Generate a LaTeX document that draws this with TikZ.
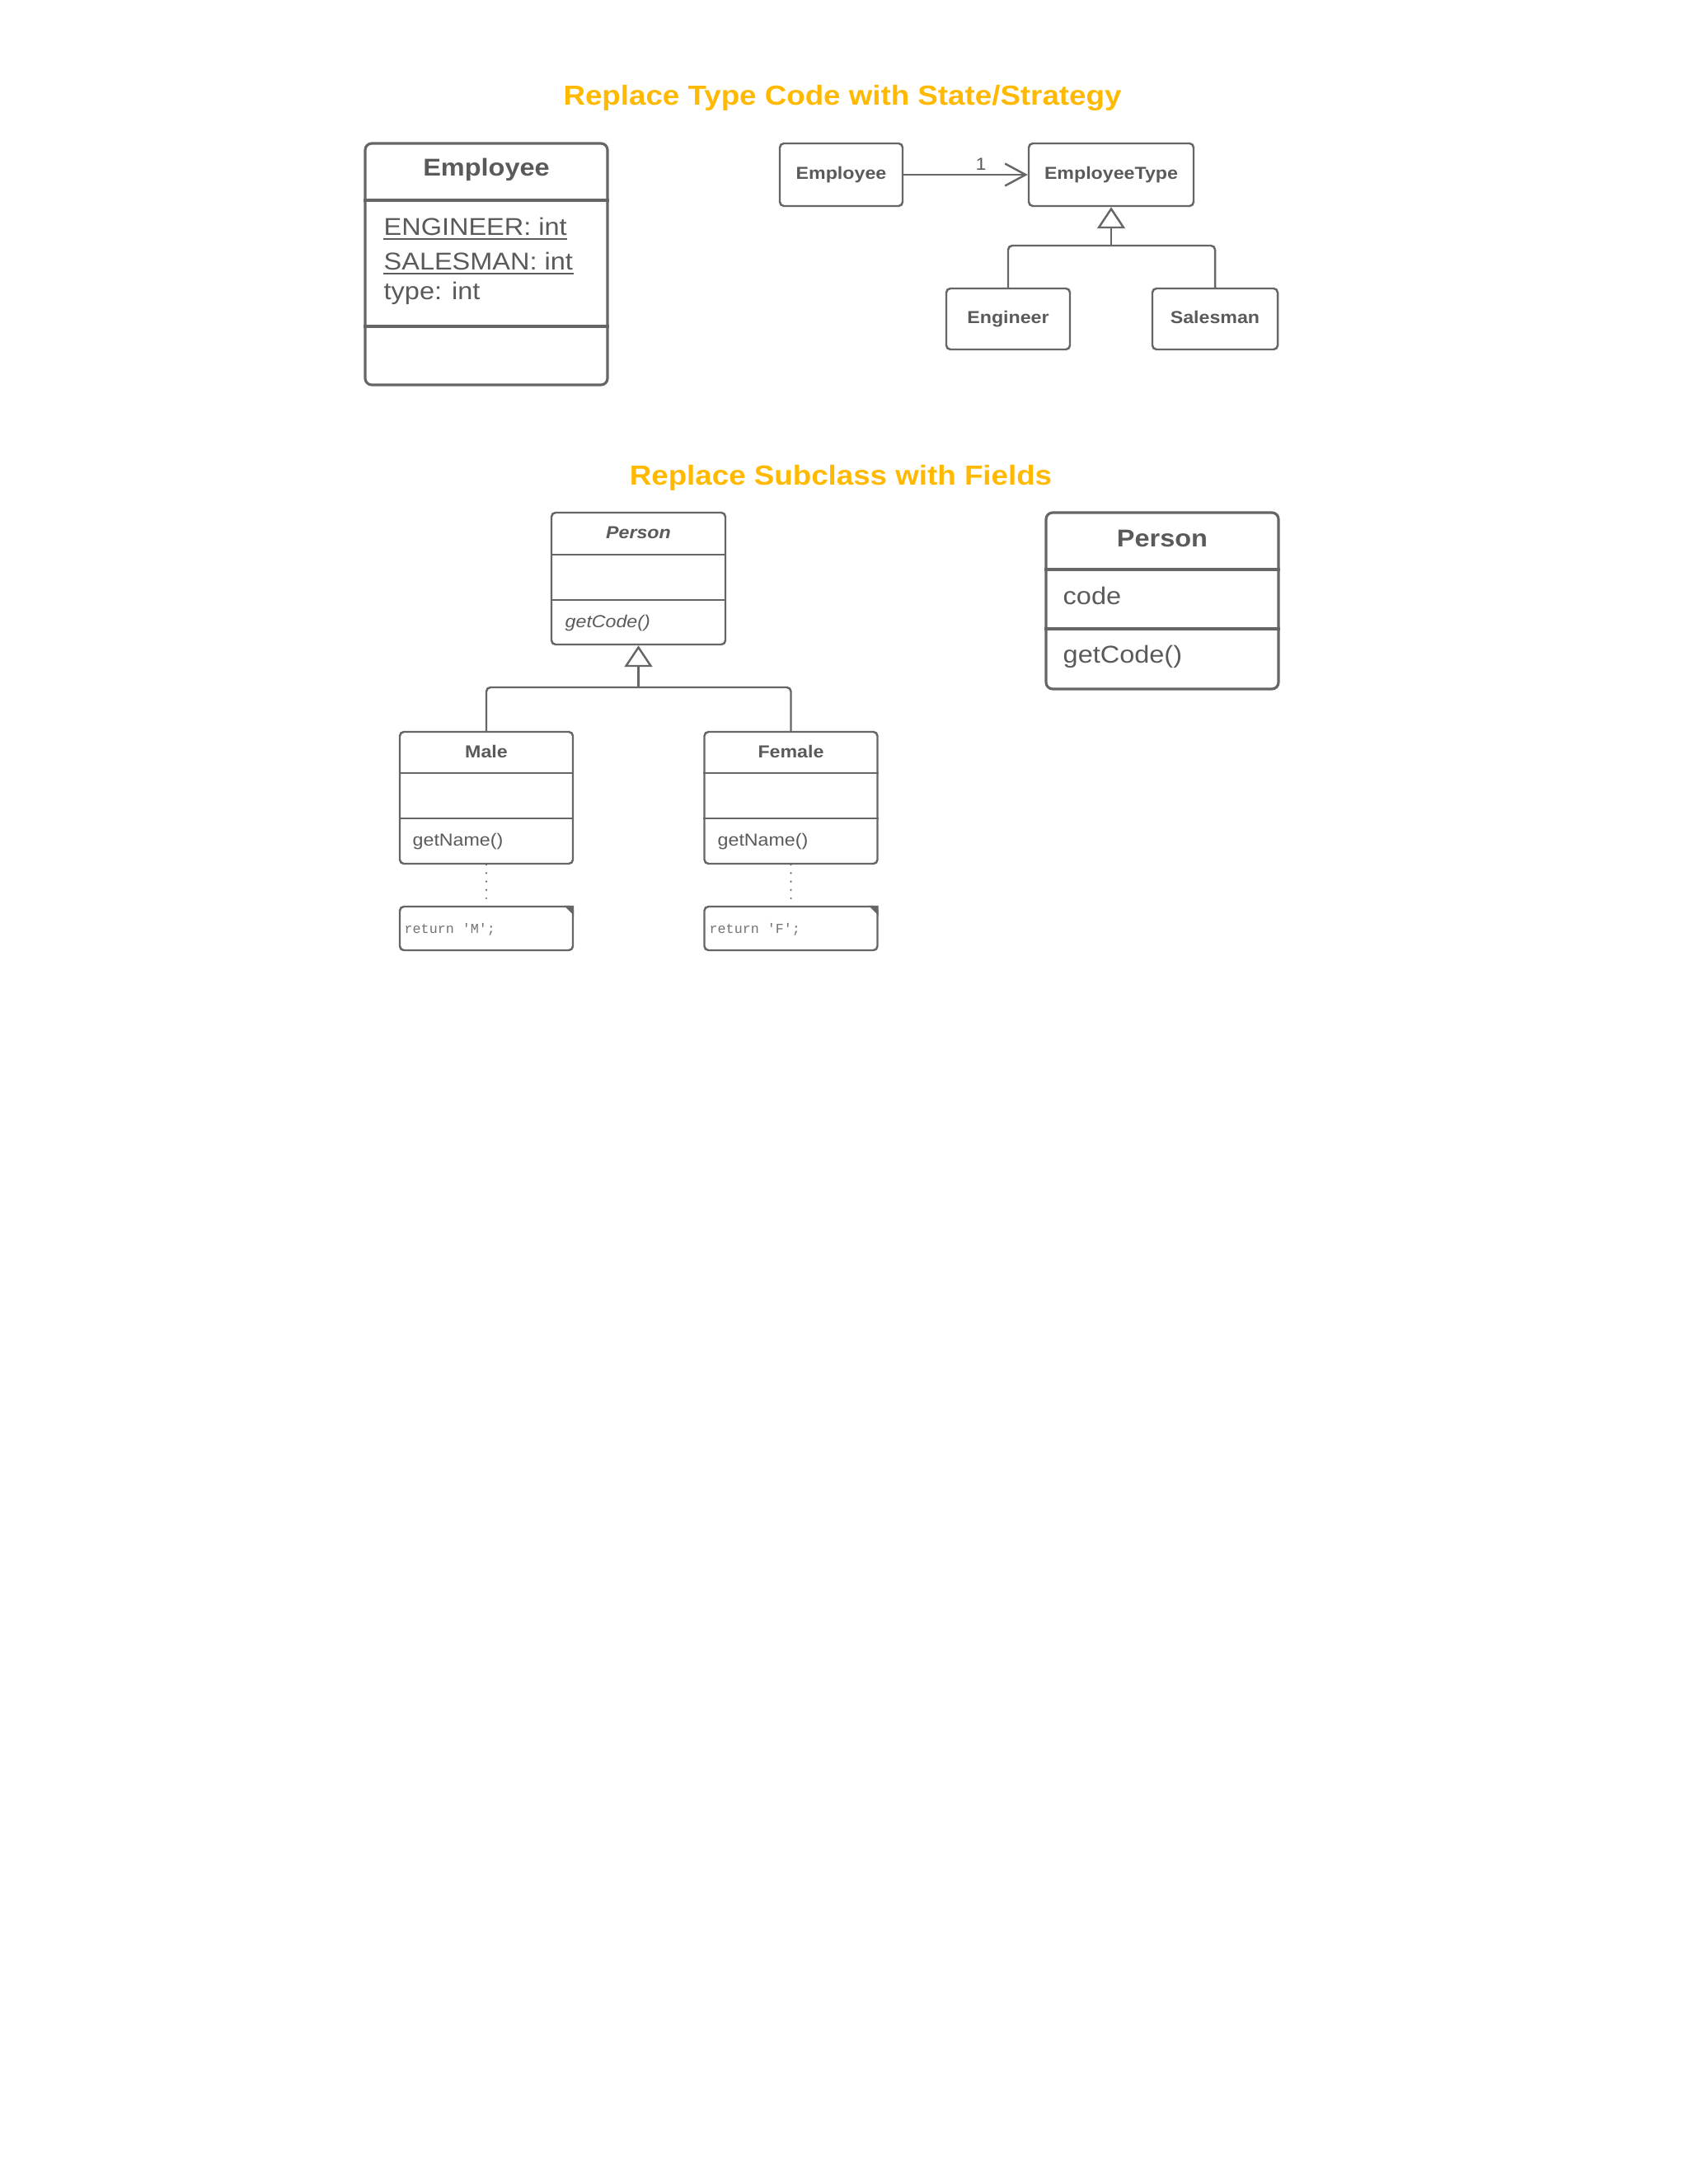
\documentclass[tikz,border=0pt]{standalone}
\usepackage{fontspec}
\setmainfont{Liberation Sans}[FakeStretch=1.1]
\setmonofont{Liberation Mono}
\usetikzlibrary{arrows.meta}

\definecolor{titleorange}{HTML}{FFB900}
\definecolor{linegray}{HTML}{666666}
\definecolor{textgray}{HTML}{5A5A5A}

\tikzset{
    classbox/.style={draw=linegray, line width=0.7pt, rounded corners=0.05cm, inner sep=0pt},
    bigbox/.style={classbox, line width=0.9pt, rounded corners=0.08cm},
    namebox/.style={classbox, smallname, text height=4.2pt, text depth=1.3pt},
    divider/.style={draw=linegray, line width=0.7pt},
    bigdivider/.style={divider, line width=0.9pt},
    underbar/.style={draw=textgray, line width=0.45pt},
    headline/.style={text=titleorange, font=\fontsize{9.5}{11}\selectfont\bfseries, inner sep=0pt},
    bigtext/.style={text=textgray, font=\fontsize{8.4}{10}\selectfont, inner sep=0pt},
    bigname/.style={bigtext, font=\fontsize{8.4}{10}\selectfont\bfseries},
    smalltext/.style={text=textgray, font=\fontsize{6}{7}\selectfont, inner sep=0pt},
    smallname/.style={smalltext, font=\fontsize{6}{7}\selectfont\bfseries},
    codetext/.style={text=textgray!85, font=\fontsize{4.75}{6}\ttfamily, inner sep=0pt},
    assoc/.style={draw=linegray, line width=0.7pt, -{Straight Barb[length=0.25cm, width=0.27cm, line width=0.7pt]}},
    genline/.style={draw=linegray, line width=0.7pt, -{Triangle[open, length=0.26cm, width=0.34cm, line width=0.7pt]}},
    treeline/.style={draw=linegray, line width=0.7pt, rounded corners=0.05cm},
    noteline/.style={draw=linegray, line width=0.7pt, line cap=round, dash pattern=on 0pt off 2.9pt},
}

\begin{document}
\begin{tikzpicture}
            \fill[white] (0, 0) rectangle (20.48, -26.50);
            \useasboundingbox (0, 0) rectangle (20.48, -26.50);

            % Replace Type Code with State/Strategy
            \node[headline, anchor=base] (title1) at (10.22, -1.28) {Replace Type Code with State/Strategy};

            \node[bigbox, minimum width=2.94cm, minimum height=2.93cm] (bigemp) at (5.90, -3.205) {};
            \draw[bigdivider] (bigemp.west |- 0, -2.43) -- (bigemp.east |- 0, -2.43);
            \draw[bigdivider] (bigemp.west |- 0, -3.96) -- (bigemp.east |- 0, -3.96);
            \node[bigname, anchor=base] (bigempname) at (5.90, -2.14) {Employee};
            \node[bigtext, anchor=base west] (attreng) at (4.65, -2.85) {ENGINEER: int};
            \draw[underbar] ([yshift=-0.05cm]attreng.base west) -- ([yshift=-0.05cm]attreng.base east);
            \node[bigtext, anchor=base west] (attrsal) at (4.65, -3.27) {SALESMAN: int};
            \draw[underbar] ([yshift=-0.05cm]attrsal.base west) -- ([yshift=-0.05cm]attrsal.base east);
            \node[bigtext, anchor=base west] (attrtype) at (4.65, -3.63) {type: int};

            \node[namebox, minimum width=1.49cm, minimum height=0.76cm] (emp) at (10.205, -2.12) {Employee};
            \node[namebox, minimum width=2.00cm, minimum height=0.76cm] (etype) at (13.48, -2.12) {EmployeeType};
            \node[namebox, minimum width=1.50cm, minimum height=0.74cm] (engineer) at (12.23, -3.87) {Engineer};
            \node[namebox, minimum width=1.52cm, minimum height=0.74cm] (salesman) at (14.74, -3.87) {Salesman};
            \draw[assoc] (emp) -- (etype);
            \node[smalltext, anchor=base] (mult) at (11.90, -2.07) {1};
            \coordinate (etjoin) at (13.48, -2.98);
            \draw[genline] (etjoin) -- (etype.south);
            \draw[treeline] (engineer.north) |- (etjoin) -| (salesman.north);

            % Replace Subclass with Fields
            \node[headline, anchor=base] (title2) at (10.20, -5.88) {Replace Subclass with Fields};

            \node[classbox, minimum width=2.11cm, minimum height=1.60cm] (absperson) at (7.745, -7.02) {};
            \draw[divider] (absperson.west |- 0, -6.73) -- (absperson.east |- 0, -6.73);
            \draw[divider] (absperson.west |- 0, -7.28) -- (absperson.east |- 0, -7.28);
            \node[smallname, font=\fontsize{6}{7}\selectfont\bfseries\itshape, anchor=base] (abspersonname) at (7.745, -6.53) {Person};
            \node[smalltext, font=\fontsize{6}{7}\selectfont\itshape, anchor=base west] (absgetcode) at (6.85, -7.61) {getCode()};

            \node[classbox, minimum width=2.10cm, minimum height=1.60cm] (male) at (5.90, -9.68) {};
            \draw[divider] (male.west |- 0, -9.38) -- (male.east |- 0, -9.38);
            \draw[divider] (male.west |- 0, -9.93) -- (male.east |- 0, -9.93);
            \node[smallname, anchor=base] (malename) at (5.90, -9.19) {Male};
            \node[smalltext, anchor=base west] (malegetname) at (5.00, -10.26) {getName()};

            \node[classbox, minimum width=2.10cm, minimum height=1.60cm] (female) at (9.595, -9.68) {};
            \draw[divider] (female.west |- 0, -9.38) -- (female.east |- 0, -9.38);
            \draw[divider] (female.west |- 0, -9.93) -- (female.east |- 0, -9.93);
            \node[smallname, anchor=base] (femalename) at (9.595, -9.19) {Female};
            \node[smalltext, anchor=base west] (femalegetname) at (8.70, -10.26) {getName()};

            \coordinate (pjoin) at (7.745, -8.34);
            \draw[genline] (pjoin) -- (absperson.south);
            \draw[treeline] (male.north) |- (pjoin) -| (female.north);

            % notes
            \node[classbox, minimum width=2.10cm, minimum height=0.53cm] (malenote) at (5.90, -11.265) {};
            \fill[linegray] ([xshift=-0.12cm]malenote.north east) -- (malenote.north east) -- ([yshift=-0.12cm]malenote.north east) -- cycle;
            \node[codetext, anchor=base west] (malecode) at (4.90, -11.32) {return 'M';};
            \draw[noteline] (male.south) -- (malenote.north);

            \node[classbox, minimum width=2.10cm, minimum height=0.53cm] (femalenote) at (9.595, -11.265) {};
            \fill[linegray] ([xshift=-0.12cm]femalenote.north east) -- (femalenote.north east) -- ([yshift=-0.12cm]femalenote.north east) -- cycle;
            \node[codetext, anchor=base west] (femalecode) at (8.60, -11.32) {return 'F';};
            \draw[noteline] (female.south) -- (femalenote.north);

            \node[bigbox, minimum width=2.82cm, minimum height=2.14cm] (person) at (14.10, -7.29) {};
            \draw[bigdivider] (person.west |- 0, -6.91) -- (person.east |- 0, -6.91);
            \draw[bigdivider] (person.west |- 0, -7.63) -- (person.east |- 0, -7.63);
            \node[bigname, anchor=base] (personname) at (14.10, -6.63) {Person};
            \node[bigtext, anchor=base west] (personcode) at (12.89, -7.33) {code};
            \node[bigtext, anchor=base west] (persongetcode) at (12.89, -8.04) {getCode()};
        \end{tikzpicture}
\end{document}
